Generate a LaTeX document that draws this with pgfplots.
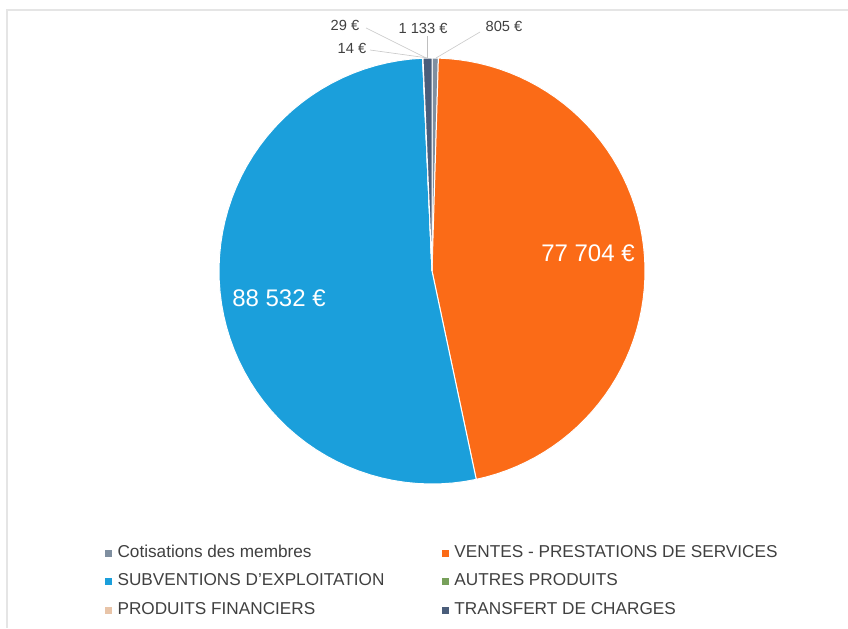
\documentclass[border=0pt]{standalone}
\usepackage{fontspec}
\setmainfont{Liberation Sans}
\usepackage{pgfplots}
\usepackage{pgfplotstable}
\pgfplotsset{compat=1.18}
\definecolor{cCot}{HTML}{7F8FA0}
\definecolor{cVen}{HTML}{FB6B17}
\definecolor{cSub}{HTML}{1B9FDB}
\definecolor{cAut}{HTML}{77A05A}
\definecolor{cFin}{HTML}{E8C4A8}
\definecolor{cTra}{HTML}{4A5D7A}
\definecolor{txt}{HTML}{404040}

\pgfplotstableread{
name value
Cotisations 805
Ventes 77704
Subventions 88532
Autres 14
Financiers 29
Transfert 1133
}\datatable
\pgfplotstablegetelem{0}{value}\of\datatable\edef\vA{\pgfplotsretval}
\pgfplotstablegetelem{1}{value}\of\datatable\edef\vB{\pgfplotsretval}
\pgfplotstablegetelem{2}{value}\of\datatable\edef\vC{\pgfplotsretval}
\pgfplotstablegetelem{3}{value}\of\datatable\edef\vD{\pgfplotsretval}
\pgfplotstablegetelem{4}{value}\of\datatable\edef\vE{\pgfplotsretval}
\pgfplotstablegetelem{5}{value}\of\datatable\edef\vF{\pgfplotsretval}
\edef\tot{\fpeval{\vA+\vB+\vC+\vD+\vE+\vF}}
\edef\aA{0}
\edef\aB{\fpeval{round(360*\vA/\tot,4)}}
\edef\aC{\fpeval{round(\aB+360*\vB/\tot,4)}}
\edef\aD{\fpeval{round(\aC+360*\vC/\tot,4)}}
\edef\aE{\fpeval{round(\aD+360*\vD/\tot,4)}}
\edef\aF{\fpeval{round(\aE+360*\vE/\tot,4)}}
\edef\aG{360}

\begin{document}
\begin{tikzpicture}
\begin{axis}[
  scale only axis, width=636pt, height=471pt,
  xmin=0, xmax=848, ymin=0, ymax=628, y dir=reverse,
  hide axis, clip=false,
  legend columns=2, legend cell align=left,
  legend style={at={(axis cs:105,545)}, anchor=north west, draw=none, fill=none,
    inner sep=0pt, font=\fontsize{12.9}{14}\selectfont, text=txt, row sep=9.5pt,
    nodes={inner sep=0pt, text height=9pt, text depth=3pt},
    /tikz/every odd column/.append style={column sep=4pt}},
  legend image code/.code={\fill[#1, draw=none] (0pt,-2.6pt) rectangle (5.2pt,2.6pt);},
  slice/.style={draw=white, line width=0.75pt, samples=60, variable=\t},
]
\draw[black!10, line width=1.5pt] (axis cs:7,628) -- (axis cs:7,10) -- (axis cs:848,10);

\addplot[slice, fill=cCot, domain=\aA:\aB] ({432+213*sin(\t)},{271-213*cos(\t)}) -- (axis cs:432,271) -- cycle;
\addlegendentry{\makebox[243.5pt][l]{Cotisations des membres}}
\addplot[slice, fill=cVen, domain=\aB:\aC] ({432+213*sin(\t)},{271-213*cos(\t)}) -- (axis cs:432,271) -- cycle;
\addlegendentry{VENTES - PRESTATIONS DE SERVICES}
\addplot[slice, fill=cSub, domain=\aC:\aD] ({432+213*sin(\t)},{271-213*cos(\t)}) -- (axis cs:432,271) -- cycle;
\addlegendentry{\makebox[243.5pt][l]{SUBVENTIONS D'EXPLOITATION}}
\addplot[slice, fill=cAut, domain=\aD:\aE] ({432+213*sin(\t)},{271-213*cos(\t)}) -- (axis cs:432,271) -- cycle;
\addlegendentry{AUTRES PRODUITS}
\addplot[slice, fill=cFin, domain=\aE:\aF] ({432+213*sin(\t)},{271-213*cos(\t)}) -- (axis cs:432,271) -- cycle;
\addlegendentry{\makebox[243.5pt][l]{PRODUITS FINANCIERS}}
\addplot[slice, fill=cTra, domain=\aF:\aG] ({432+213*sin(\t)},{271-213*cos(\t)}) -- (axis cs:432,271) -- cycle;
\addlegendentry{TRANSFERT DE CHARGES}

% leader lines
\addplot[forget plot, black!25, line width=0.5pt] coordinates {(427,36) (427,58)};
\addplot[forget plot, black!20, line width=0.5pt] coordinates {(480,32) (436,58)};
\addplot[forget plot, black!20, line width=0.5pt] coordinates {(366,28) (426,58)};
\addplot[forget plot, black!20, line width=0.5pt] coordinates {(370,50) (428,58)};

\node[text=white, font=\fontsize{18}{18}\selectfont] at (axis cs:588,253) {77 704 €};
\node[text=white, font=\fontsize{18}{18}\selectfont] at (axis cs:279,298) {88 532 €};
\node[text=txt, font=\fontsize{11}{11}\selectfont] at (axis cs:345,25) {29 €};
\node[text=txt, font=\fontsize{11}{11}\selectfont] at (axis cs:352,48) {14 €};
\node[text=txt, font=\fontsize{11}{11}\selectfont] at (axis cs:423,28) {1 133 €};
\node[text=txt, font=\fontsize{11}{11}\selectfont] at (axis cs:504,26) {805 €};
\end{axis}
\pgfresetboundingbox
\path (current axis.south west) rectangle (current axis.north east);
\end{tikzpicture}
\end{document}
